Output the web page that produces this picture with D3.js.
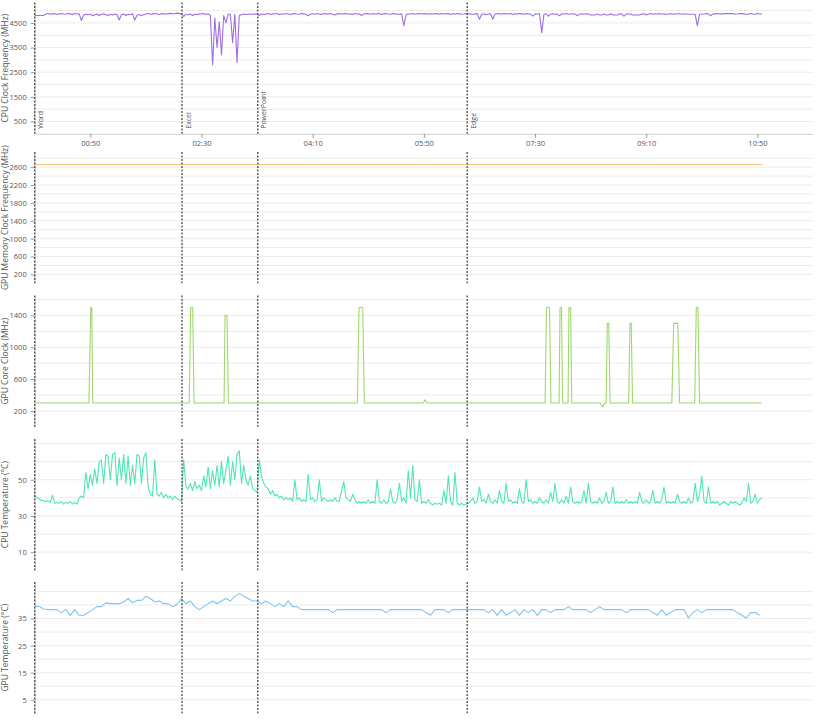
<!DOCTYPE html>
<html><head><meta charset="utf-8">
<script src="https://cdn.jsdelivr.net/npm/d3@7"></script>
<style>body{margin:0;background:#fff;} text{font-family:"Open Sans",sans-serif;}</style>
</head><body><svg id="c" width="820" height="720"></svg>
<script>
// ---------------- DATA ----------------
const eventNames = ["Word","Excel","PowerPoint","Edge"];
const eventTimes = [0,132.5,200.6,389];   // seconds
const xTickValues = [50,150,250,350,450,550,650];
const xTickLabels = ["00:50","02:30","04:10","05:50","07:30","09:10","10:50"];

const panelTitles = ["CPU Clock Frequency (MHz)","GPU Memory Clock Frequency (MHz)","GPU Core Clock (MHz)","CPU Temperature (°C)","GPU Temperature (°C)"];
const panelColors = ["#9f6fe0","#f4c77e","#9fd86b","#4fe6b6","#80c4f0"];
const yMaxValues = [5330,2940,1650,72.5,48.5];
const yGridValues = [
  [500,1000,1500,2000,2500,3000,3500,4000,4500,5000],
  [200,400,600,800,1000,1200,1400,1600,1800,2000,2200,2400,2600,2800],
  [200,400,600,800,1000,1200,1400,1600],
  [10,20,30,40,50,60,70],
  [5,10,15,20,25,30,35,40,45]
];
const yTickValues = [
  [500,1500,2500,3500,4500],
  [200,600,1000,1400,1800,2200,2600],
  [200,600,1000,1400],
  [10,30,50],
  [5,15,25,35]
];

// CPU clock, one sample every 2 s
const cpuClockStep = 2;
const cpuClock = [
4800,4800,4800,4800,4800,
4860,4880,4850,4870,4880,4840,4870,4880,4860,4850,4880,4870,4840,4880,4860,4870,
4600,
4820,4850,4830,4860,4790,4830,4860,4800,4850,4870,4830,4800,4850,4820,4860,4840,
4620,
4830,4860,4800,4850,4830,4870,
4620,
4810,4840,4800,4830,4860,4880,4850,4870,4880,4860,4840,4880,4870,4850,4880,4890,4870,4880,4900,4880,
4880,4760,4850,4820,4860,4800,4850,4830,4870,4860,4880,4840,4870,4800,
2800,4700,3500,4550,3200,4800,4500,4850,4850,3700,4850,2900,4800,
4830,4860,4840,4850,4860,4840,4870,
4850,4800,4870,4830,4860,4880,4840,4870,4860,4880,
4830,4870,4850,4880,4860,4840,4870,4880,4860,4850,
4880,4870,4840,4790,4860,4870,4850,4880,4860,4840,
4880,4870,4860,4880,4850,4820,4870,4880,4860,4870,
4880,4850,4870,4840,4880,4860,4870,4800,4860,4880,
4870,4850,4880,4860,4870,4880,4840,4870,4880,4860,
4850,4880,4870,4860,4840,4870,
4390,
4820,4870,4860,4880,4850,4870,4880,4860,4870,4880,
4850,4870,4860,4880,4870,4850,4880,4860,4870,4880,
4840,4870,4860,4880,4870,4850,4860,4880,4870,4860,
4840,4870,4880,
4650,
4850,4870,4830,4860,4870,
4650,
4860,4880,4870,4850,4880,4870,4860,4880,4840,4870,
4860,4880,4870,4850,4880,4870,4860,4780,4870,4860,
4880,
4100,
4850,4870,4780,4860,4870,4850,4860,4790,4870,4860,
4880,4850,4860,4870,4860,4790,4860,4870,4850,4870,
4860,4820,4820,4820,4860,4820,4820,4860,4820,4820,
4870,4820,4820,4820,4860,4870,4780,4860,4870,4850,
4820,4820,4820,4820,4860,4870,4820,4860,4880,4850,
4870,4860,4880,4850,4870,4840,4860,4870,4850,4870,
4860,4880,4850,4870,4860,4850,4850,4850,4850,
4390,
4850,4850,4860,4880,4870,4790,4860,4870,4880,4860,
4870,4880,4880,4880,4880,4880,4850,4860,4880,4880,
4870,4840,4860,4880,4860,4850,4880,4860,4870
];

// GPU memory clock (time s, MHz)
const gpuMemTimes = [0,654];
const gpuMem = [2660,2660];

// GPU core clock breakpoints (time s, MHz)
const gpuCoreTimes = [0,48.8,50.4,51.3,52.2,139,140.3,142.1,143.3,170.3,171.2,173,174.2,290.2,291.7,295,296.5,
  349.3,351,352.8,459,460.3,463,464.3,471.6,472.5,473.8,474.8,479.7,480.5,482,483,508.5,510.8,512.7,
  514,515,516.3,517.5,534.2,535.4,536.5,537.7,573,574.7,578.4,580,593.6,595,596.5,598,654];
const gpuCore = [300,300,1500,1500,300,300,1500,1500,300,300,1400,1400,300,300,1500,1500,300,
  300,340,300,300,1500,1500,300,300,1500,1500,300,300,1500,1500,300,300,250,300,
  300,1300,1300,300,300,1300,1300,300,300,1300,1300,300,300,1500,1500,300,300];

// CPU temperature, one sample every 2 s
const cpuTempStep = 2;
const cpuTemp = [
41.5,40,39.5,38.5,38.5,38,38.5,37.5,41.5,37,
37.5,37,38,36.5,37.5,37,38,36.5,37.5,36.5,
40,41,40,54,45,53,47,56,48,60,
61,48,64,63,50,64,65,47,62,50,
64,48,63,47,58,48,64,63,48,62,
65,46,42,41,61,42,41,43,40,42,
40,41,39,41,39.5,39,38,61,46,45,
48,44,49,45,47,44,52,46,57,45,
55,47,58,46,60,48,55,63,47,60,
50,64,66,48,58,50,47,52,45,44,
43,61,52,48,46,45,42,44,41,42,
40,41,39,40,39,40,38,50,39,40,
38,39,38,53,39,40,38,39,50,38,
40,39,38,39,38,40,38,38,44,49,
40,39,38,42,39,37,38,37,38,37,
39,37,38,37,50,38,37,39,37,38,
45,38,37,39,48,38,40,37,55,40,
58,39,38,50,37,38,37,39,37,36,
37,36.5,37,36,44,37,52,38,36,54,
37,36,37,36,36.5,37,38,40,37,38,
46,38,39,37,42,38,37,39,37,44,
38,37,48,38,39,37,38,37,45,38,
37,50,38,39,37,38,37,40,38,37,
39,37,43,38,48,38,37,39,37,41,
37,46,38,37,38,37,38,44,37,48,
38,37,38,37,40,37,38,43,37,38,
46,37,38,37,38,37,39,37,38,37,
38,37,43,38,37,39,37,38,44,37,
38,37,39,46,37,38,37,38,37,42,
38,37,38,37,40,37,38,48,38,42,
52,38,37,46,37,38,37,38,36,37,
38,37,36,38,37,38,37,36,37,40,
38,48,37,38,42,37,39,40
];

// GPU temperature, one sample every 4 s
const gpuTempStep = 4;
const gpuTemp = [
39.5,39.5,38.5,38.3,38.3,38.3,37.2,38.3,36.2,38.3,
36.2,36.2,37.2,38.3,39.4,39.4,40.8,40.5,40.5,40.5,
41.1,42.4,40.8,41.7,41.7,43.2,42.4,41.1,41.5,40.5,
40.5,39.4,40.2,42.4,40.5,41.5,39.4,38.3,39.4,40.5,
41.5,40.5,41.5,42.4,41.5,43.2,44.3,43.2,42.4,41.5,
41.5,40.5,41.5,40.5,39.4,40.5,39.4,41.5,39.4,39.4,
38.3,38.3,38.3,38.3,38.3,38.3,38.3,37.2,38.3,38.3,
38.3,38.3,38.3,38.3,38.3,38.3,38.3,38.3,38.3,37.2,
38.3,38.3,38.3,38.3,38.3,38.3,38.3,38.3,37.2,36.2,
38.3,38.3,38.3,37.2,38.3,38.3,38.3,38.3,38.3,38.3,
38.3,38.3,37.2,38.3,36.2,38.3,36.2,37.2,38.3,36.2,
38.3,37.2,38.3,36.2,38.3,38.3,37.2,38.3,38.3,38.3,
39.4,38.3,38.3,38.3,38.3,37.2,38.3,39.4,38.3,38.3,
38.3,38.3,38.3,37.2,38.3,38.3,38.3,38.3,38.3,37.2,
36.2,38.3,36.2,37.2,38.3,38.3,38.3,35.2,37.2,38.3,
37.2,38.3,38.3,38.3,38.3,38.3,38.3,38.3,37.2,36.2,
35.2,37.2,37.2,36.2
];

// ---------------- CHART ----------------
const svg = d3.select("#c");
const plotLeft = 34.7, plotRight = 813;
const panelTops = [2.5,152,295.5,439,582];
const panelH = 131.3;
const x = d3.scaleLinear().domain([0,700]).range([plotLeft,plotRight]);

const series = [
  cpuClock.map((v,i)=>[i*cpuClockStep,v]),
  gpuMem.map((v,i)=>[gpuMemTimes[i],v]),
  gpuCore.map((v,i)=>[gpuCoreTimes[i],v]),
  cpuTemp.map((v,i)=>[i*cpuTempStep,v]),
  gpuTemp.map((v,i)=>[i*gpuTempStep,v])
];

series.forEach((data,p)=>{
  const pTop = panelTops[p], pBottom = pTop + panelH;
  const y = d3.scaleLinear().domain([0,yMaxValues[p]]).range([pBottom,pTop]);
  const g = svg.append("g");

  // gridlines
  g.selectAll("line.grid").data(yGridValues[p]).join("line")
    .attr("x1",plotLeft).attr("x2",plotRight)
    .attr("y1",d=>y(d)).attr("y2",d=>y(d))
    .attr("stroke","#ececec").attr("stroke-width",1);

  // y axis
  const ya = g.append("g").attr("transform",`translate(${plotLeft},0)`)
    .call(d3.axisLeft(y).tickValues(yTickValues[p]).tickFormat(d3.format("d"))
      .tickSize(4).tickSizeOuter(0).tickPadding(4));
  ya.select(".domain").attr("stroke","#cfcfcf");
  ya.selectAll(".tick line").attr("stroke","#999");
  ya.selectAll(".tick text").attr("fill","#555").style("font-size","7.5px").style("font-family","'Open Sans',sans-serif");

  // x axis on first panel
  if (p === 0) {
    const xa = g.append("g").attr("transform",`translate(0,${pBottom})`)
      .call(d3.axisBottom(x).tickValues(xTickValues).tickFormat((d,i)=>xTickLabels[i]).tickSize(4).tickSizeOuter(0).tickPadding(3));
    xa.select(".domain").attr("stroke","#cfcfcf");
    xa.selectAll(".tick line").attr("stroke","#999");
    xa.selectAll(".tick text").attr("fill","#555").style("font-size","7.5px").style("font-family","'Open Sans',sans-serif");
  }

  // title
  g.append("text")
    .attr("transform",`translate(8,${(pTop+pBottom)/2}) rotate(-90)`)
    .attr("text-anchor","middle").attr("fill","#555")
    .style("font-size","8.5px")
    .text(panelTitles[p]);

  // data line
  const line = d3.line().x(d=>x(d[0])).y(d=>y(d[1]));
  g.append("path").datum(data).attr("d",line)
    .attr("fill","none").attr("stroke",panelColors[p]).attr("stroke-width",1.1)
    .attr("stroke-linejoin","round");

  // event markers
  g.selectAll("line.ev").data(eventTimes).join("line")
    .attr("x1",d=>x(d)).attr("x2",d=>x(d))
    .attr("y1",pTop).attr("y2",pBottom)
    .attr("stroke","#555").attr("stroke-width",1.4).attr("stroke-dasharray","2,1.5");

  if (p === 0) {
    g.selectAll("text.ev").data(eventNames).join("text")
      .attr("transform",(d,i)=>`translate(${x(eventTimes[i])+8.5},${pBottom-5}) rotate(-90)`)
      .attr("fill","#555").style("font-size","7px")
      .text(d=>d);
  }
});
</script>
</body></html>
